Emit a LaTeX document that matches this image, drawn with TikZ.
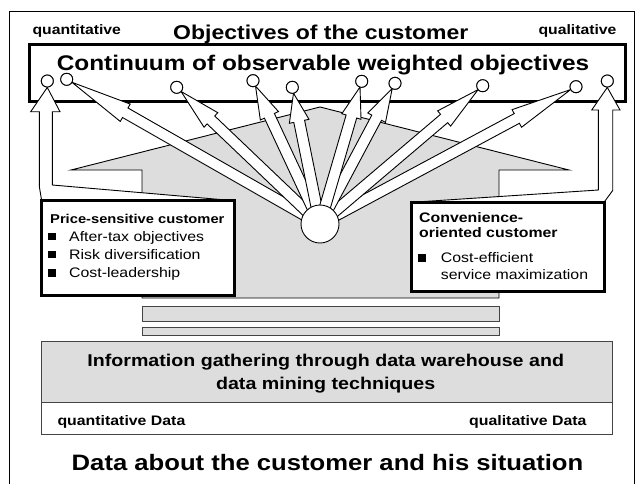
\documentclass[tikz,border=0pt]{standalone}
\usepackage{fontspec}
\setmainfont{Liberation Sans}[FakeStretch=1.15]
\usetikzlibrary{calc}
\definecolor{housegray}{HTML}{DDDDDD}
\definecolor{boxline}{HTML}{444444}
\newcommand\fsz[1]{\fontsize{#1}{#1}\selectfont}
\newcommand\fatarrow[2]{%
  \coordinate (faS) at (#1.center);
  \coordinate (faT) at ($(#2.center)!6pt!(#1.center)$);
  \coordinate (faH) at ($(faS)!0.785!(faT)$);
  \draw[fatarr] ($(faS)!5.5pt!90:(faT)$) -- ($(faH)!5.5pt!90:(faT)$) -- ($(faH)!10pt!90:(faT)$) -- (faT)
    -- ($(faH)!10pt!-90:(faT)$) -- ($(faH)!5.5pt!-90:(faT)$) -- ($(faS)!5.5pt!-90:(faT)$) -- cycle;
}
\begin{document}
\begin{tikzpicture}[x=1pt,y=-1pt,
  thin line/.style={line width=0.9pt},
  fatarr/.style={thin line, fill=white, draw=black, line join=miter},
  smallc/.style={circle, draw, fill=white, thin line, minimum size=12pt, inner sep=0pt},
  thickbox/.style={draw, fill=white, line width=3pt, inner sep=0pt, outer sep=0pt},
  barbox/.style={draw=boxline, fill=housegray, thin line, inner sep=0pt, outer sep=0pt},
  txt/.style={inner sep=0pt, font=\fsz{13.8}},
  btxt/.style={inner sep=0pt, font=\bfseries\fsz{13.8}},
  bullet/.style={fill=black, minimum size=7.5pt, inner sep=0pt}]
\useasboundingbox (0,0) rectangle (640,483);
\fill[white] (0,0) rectangle (640,483);
% outer frame
\draw[thin line] (9.5,490) -- (9.5,11) -- (634,11) -- (634,490);
% top box
\node[thickbox, minimum width=596, minimum height=57.7] (topbox) at (327,72.85) {};
% house
\filldraw[fill=housegray, draw=black, thin line] (71,170) -- (320,107) -- (569,170) -- (499,170)
  -- (499,298) -- (142,298) -- (142,170) -- cycle;
% bars
\node[barbox, minimum width=357, minimum height=14.3] (bar1) at (320.5,313.85) {};
\node[barbox, minimum width=357, minimum height=7.3] (bar2) at (320.5,331.35) {};
% info box
\node[draw=boxline, thin line, fill=white, minimum width=570.6, minimum height=92.6, inner sep=0pt, outer sep=0pt] (infobox) at (327,388) {};
\filldraw[fill=housegray, draw=boxline, thin line] (infobox.north west) rectangle (612.3,402);
% small circles (positions)
\node[smallc] (c1) at (47.3,81) {};
\node[smallc] (c10) at (607.3,81) {};
% boxes
\node[thickbox, minimum width=192.6, minimum height=94.3] (pbox) at (138,247.85) {};
\node[thickbox, minimum width=192.3, minimum height=88.7] (cbox) at (507.85,246.65) {};
% funnels
\filldraw[fatarr] (pbox.north west) -- (39.3,186.5) -- (39.3,111.7) -- (30.7,111.7) -- (c1.south)
  -- (60,111.7) -- (52.3,111.7) -- (52.3,185) -- (pbox.north east) -- cycle;
\filldraw[fatarr] (cbox.north west) -- (598.3,190) -- (598.3,110) -- (591.7,110) -- (c10.south)
  -- (620,110) -- (612.7,110) -- (612.7,190.5) -- (cbox.north east) -- cycle;
\draw[line width=3pt] (pbox.north west) -- (pbox.north east);
\draw[line width=3pt] (cbox.north west) -- (cbox.north east);
% hub and targets
\node[circle, minimum size=38pt, inner sep=0pt] (hub) at (320,224) {};
\node[smallc] (c2) at (66.7,79.3) {};
\node[smallc] (c3) at (176.7,87.3) {};
\node[smallc] (c4) at (253,80.7) {};
\node[smallc] (c5) at (292.3,87.3) {};
\node[smallc] (c6) at (361.7,81.3) {};
\node[smallc] (c7) at (395,83.3) {};
\node[smallc] (c8) at (482.7,85.7) {};
\node[smallc] (c9) at (576,86.7) {};
\fatarrow{hub}{c2}
\fatarrow{hub}{c9}
\fatarrow{hub}{c3}
\fatarrow{hub}{c8}
\fatarrow{hub}{c4}
\fatarrow{hub}{c7}
\fatarrow{hub}{c5}
\fatarrow{hub}{c6}
\foreach \c in {c1,c2,c3,c4,c5,c6,c7,c8,c9,c10} {\node[smallc] at (\c.center) {};}
\node[circle, draw, fill=white, thin line, minimum size=38pt, inner sep=0pt] (hubc) at (hub.center) {};
% top texts
\node[anchor=base west, inner sep=0pt, font=\bfseries\fsz{13.7}] (tquant) at (32.3,34.3) {quantitative};
\node[anchor=base, inner sep=0pt, font=\bfseries\fsz{20}] (ttitle) at (320.8,39) {Objectives of the customer};
\node[anchor=base east, inner sep=0pt, font=\bfseries\fsz{13.7}] (tqual) at (616.7,34.3) {qualitative};
\node[anchor=base, inner sep=0pt, font=\bfseries\fsz{21.2}] (tcont) at (323,70) {Continuum of observable weighted objectives};
% price box texts
\node[anchor=base west, inner sep=0pt, font=\bfseries\fsz{12.8}] (ph) at (50,223.3) {Price-sensitive customer};
\node[bullet] (pb1) at (52.2,236.3) {};
\node[bullet] (pb2) at (52.2,254.5) {};
\node[bullet] (pb3) at (52.2,273) {};
\node[txt, anchor=base west] (pt1) at (69,241) {After-tax objectives};
\node[txt, anchor=base west] (pt2) at (69,259) {Risk diversification};
\node[txt, anchor=base west] (pt3) at (69,277.7) {Cost-leadership};
% convenience box texts
\node[btxt, anchor=base west] (ch1) at (419,222.3) {Convenience-};
\node[btxt, anchor=base west] (ch2) at (419,237.7) {oriented customer};
\node[bullet] (cb1) at (422.2,258) {};
\node[txt, anchor=base west] (ct1) at (440.7,262.3) {Cost-efficient};
\node[txt, anchor=base west] (ct2) at (440.7,279.3) {service maximization};
% bottom texts
\node[anchor=base, inner sep=0pt, font=\bfseries\fsz{17.07}] (i1) at (325.7,366) {Information gathering through data warehouse and};
\node[anchor=base, inner sep=0pt, font=\bfseries\fsz{17.07}] (i2) at (325.7,389.3) {data mining techniques};
\node[btxt, anchor=base west] (qd) at (57.3,425.7) {quantitative Data};
\node[btxt, anchor=base east] (qld) at (586.7,425.7) {qualitative Data};
\node[anchor=base, inner sep=0pt, font=\bfseries\fsz{22.3}] (dat) at (327.5,470) {Data about the customer and his situation};
\end{tikzpicture}
\end{document}
